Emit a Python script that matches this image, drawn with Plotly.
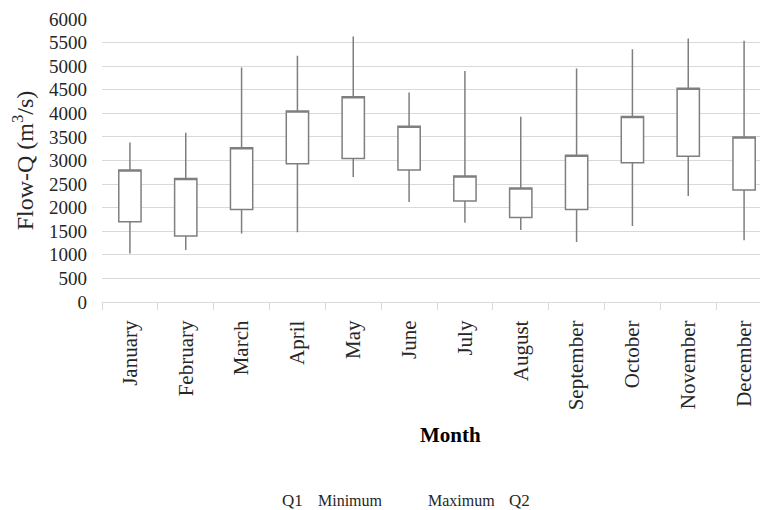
import plotly.graph_objects as go

months = ["January", "February", "March", "April", "May", "June", "July",
          "August", "September", "October", "November", "December"]
q1 = [1700, 1400, 1960, 2930, 3040, 2800, 2140, 1790, 1960, 2950, 3090, 2375]
minimum = [1030, 1100, 1450, 1480, 2650, 2120, 1680, 1525, 1270, 1610, 2250, 1310]
maximum = [3380, 3590, 4970, 5220, 5630, 4440, 4900, 3930, 4950, 5360, 5585, 5540]
q2 = [2800, 2620, 3270, 4050, 4350, 3725, 2670, 2415, 3110, 3935, 4530, 3500]

yticks = list(range(0, 6001, 500))
font = "Liberation Serif, Times New Roman, serif"
line_col = "#7f7f7f"
grid_col = "#d9d9d9"

fig = go.Figure()
fig.add_trace(go.Candlestick(
    x=months, open=q1, high=maximum, low=minimum, close=q2,
    increasing=dict(line=dict(color=line_col, width=1.5), fillcolor="white"),
    decreasing=dict(line=dict(color=line_col, width=1.5), fillcolor="white"),
    whiskerwidth=0, showlegend=False, name="Flow",
))

fig.update_layout(
    width=760, height=510,
    margin=dict(l=102, r=0, t=19, b=208),
    paper_bgcolor="white", plot_bgcolor="white",
    font=dict(family=font, color="#262626"),
    boxgap=0.43, boxgroupgap=0.3,
    showlegend=False,
    xaxis=dict(
        type="category", categoryorder="array", categoryarray=months,
        range=[-0.5, 11.285],
        rangeslider=dict(visible=False),
        tickangle=-90, tickfont=dict(size=21, family=font, color="#262626"),
        showline=True, linecolor=grid_col, linewidth=1.3,
        ticks="outside", tickson="boundaries", ticklen=7, tickcolor=grid_col, tickwidth=1.3,
        ticklabelstandoff=9,
        showgrid=False, zeroline=False,
    ),
    yaxis=dict(
        range=[0, 6000], tickvals=yticks, ticktext=[str(v) for v in yticks],
        tickfont=dict(size=19, family=font, color="#262626"),
        showgrid=True, gridcolor=grid_col, gridwidth=1.3,
        zeroline=False, showline=False, ticks="", ticklabelstandoff=14,
        title=dict(text="Flow-Q (m<sup>3</sup>/s)", font=dict(size=24, family=font, color="#262626"),
                   standoff=8),
    ),
)

fig.add_annotation(text="<b>Month</b>", xref="paper", yref="paper",
                   x=(451 - 102) / 658, y=-(435 - 302) / 283,
                   showarrow=False, font=dict(size=21, family=font, color="#000000"),
                   xanchor="center", yanchor="middle")

legend_items = [("Q1", 292, 17), ("Minimum", 350, 16), ("Maximum", 461, 16), ("Q2", 519, 17)]
for txt, px, sz in legend_items:
    fig.add_annotation(text=txt, xref="paper", yref="paper",
                       x=(px - 102) / 658, y=-(500 - 302) / 283,
                       showarrow=False, font=dict(size=sz, family=font, color="#262626"),
                       xanchor="center", yanchor="middle")

fig.write_html("out.html", config={"displayModeBar": False},
               post_script="document.body.style.margin='0px';document.body.style.overflow='hidden';")
